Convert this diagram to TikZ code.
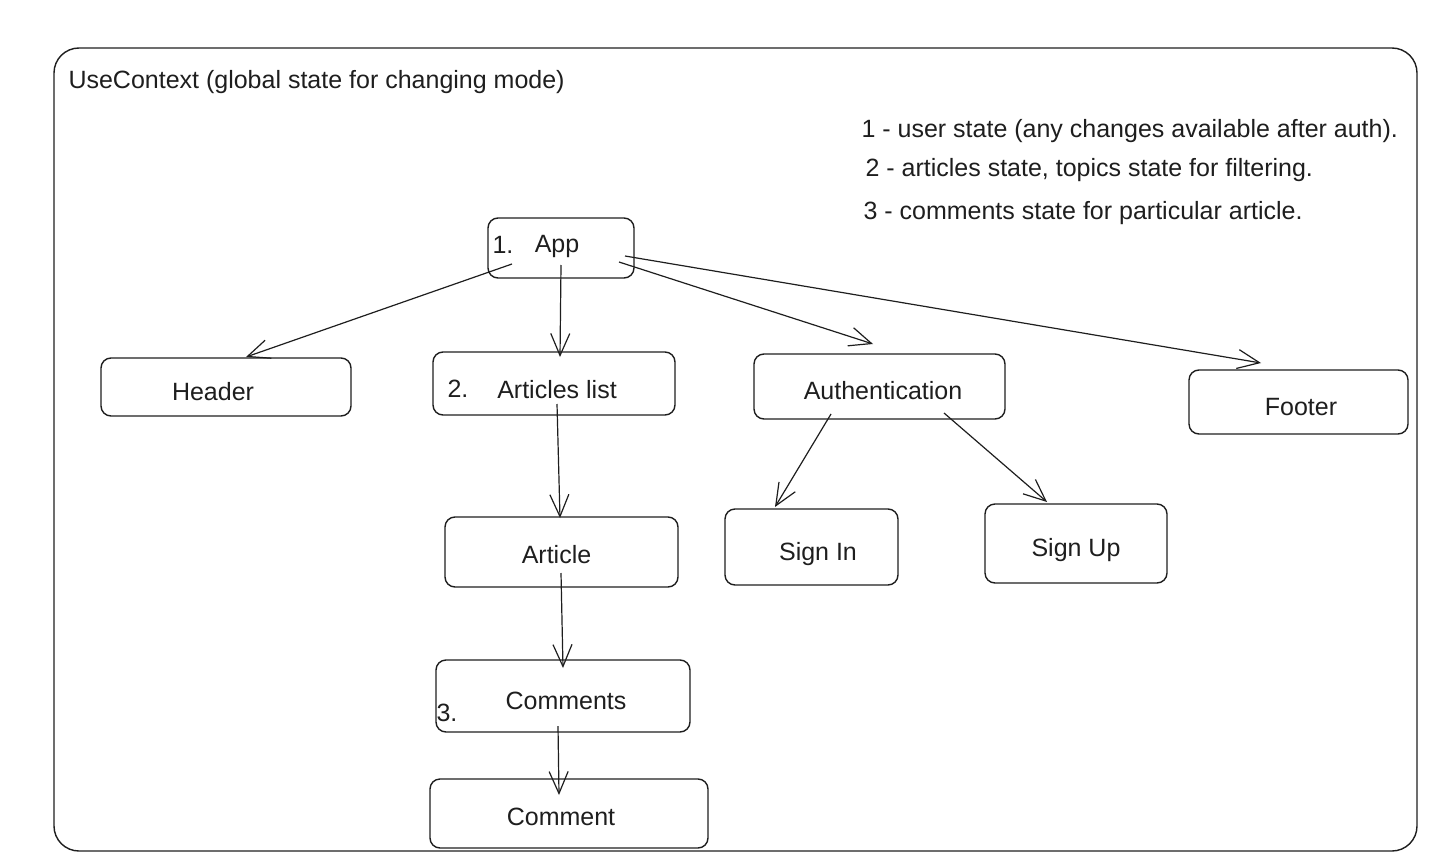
\documentclass[tikz,border=0pt]{standalone}
\usepackage{fontspec}
\setmainfont{Liberation Sans}
\usepackage{tikz}
\usetikzlibrary{arrows.meta,positioning}
\definecolor{ink}{HTML}{1E1E1E}

\begin{document}
\begin{tikzpicture}[x=1pt,y=-1pt,
  every node/.style={text=ink,font=\fontsize{25}{30}\selectfont},
  box/.style={draw=ink,line width=1.4pt,rounded corners=10pt,inner sep=0pt,text height=26pt,text depth=0pt},
  conn/.style={draw=ink,line width=1.2pt,-{Straight Barb[length=22pt,width=19pt,line width=1.2pt]}}]
  \useasboundingbox (0,0) rectangle (1442,864);
  % outer context frame
  \draw[ink,line width=1.4pt,rounded corners=25pt] (54,48) rectangle (1417,851);
  \node[anchor=base west] (title) at (65,89) {UseContext (global state for changing mode)};
  % notes
  \node[anchor=base west] (note1) at (858,137) {1 - user state (any changes available after auth).};
  \node[anchor=base west] (note2) at (862,176) {2 - articles state, topics state for filtering.};
  \node[anchor=base west] (note3) at (860,219) {3 - comments state for particular article.};
  % components
  \node[box,text height=8pt,minimum width=146pt,minimum height=60pt] (app) at (561,248) {\hspace*{-8pt}App};
  \node[box,minimum width=250pt,minimum height=58pt] (header) at (226,387) {\hspace*{-26pt}Header};
  \node[box,text height=29pt,minimum width=242pt,minimum height=63pt] (list) at (554,383.5) {\hspace*{6pt}Articles list};
  \node[box,minimum width=251pt,minimum height=65pt] (auth) at (879.5,386.5) {\hspace*{7pt}Authentication};
  \node[box,minimum width=219pt,minimum height=64pt] (footer) at (1298.5,402) {\hspace*{5pt}Footer};
  \node[box,text height=22pt,minimum width=233pt,minimum height=70pt] (article) at (561.5,552) {\hspace*{-10pt}Article};
  \node[box,minimum width=173pt,minimum height=76pt] (signin) at (811.5,547) {\hspace*{13pt}Sign In};
  \node[box,minimum width=182pt,minimum height=79pt] (signup) at (1076,543.5) {Sign Up};
  \node[box,minimum width=254pt,minimum height=72pt] (comments) at (563,696) {\hspace*{6pt}Comments};
  \node[box,text height=23pt,minimum width=278pt,minimum height=69pt] (comment) at (569,813.5) {\hspace*{-16pt}Comment};
  % numbers
  \node (n1) at (503,245) {1.};
  \node (n2) at (458,389) {2.};
  \node (n3) at (447,713) {3.};
  % connectors
  \draw[conn] ([shift={(-49,16)}]app.center) -- ([shift={(20,-30)}]header.center);
  \draw[conn] ([shift={(0,17)}]app.center) -- ([shift={(6,-26.5)}]list.center);
  \draw[conn] ([shift={(58,14)}]app.center) -- ([shift={(-6.5,-42.5)}]auth.center);
  \draw[conn] ([shift={(64,8)}]app.center) -- ([shift={(-37.5,-39)}]footer.center);
  \draw[conn] ([shift={(3,20.5)}]list.center) -- ([shift={(-1.5,-34)}]article.center);
  \draw[conn] ([shift={(-48.5,27.5)}]auth.center) -- ([shift={(-36.5,-40)}]signin.center);
  \draw[conn] ([shift={(64.5,26.5)}]auth.center) -- ([shift={(-29,-41.5)}]signup.center);
  \draw[conn] ([shift={(-0.5,21)}]article.center) -- ([shift={(0,-28)}]comments.center);
  \draw[conn] ([shift={(-5,30)}]comments.center) -- ([shift={(-10,-18.5)}]comment.center);
\end{tikzpicture}
\end{document}
